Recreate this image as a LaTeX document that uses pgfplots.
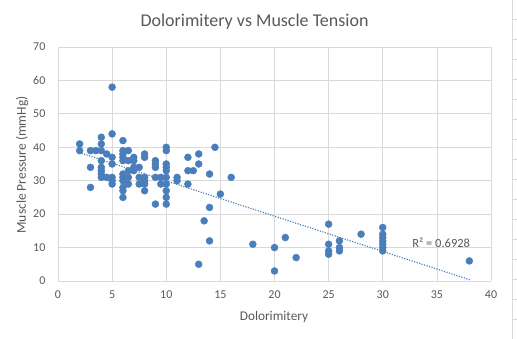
\documentclass[border=0pt]{standalone}
\usepackage{fontspec}
\setmainfont{Carlito}
\usepackage{pgfplots}
\usepackage{pgfplotstable}
\pgfplotsset{compat=1.18}
\definecolor{dot}{RGB}{74,126,187}
\definecolor{txt}{RGB}{89,89,89}
\definecolor{grd}{RGB}{217,217,217}
\pgfplotstableread{
x y
2 41
2 39
3 39
3 34
3 28
3.5 39
4 43
4 41
4 39
4 36
4 34
4 33
4 32
4 31
4.5 38
4.5 31
5 58
5 44
5 37
5 35
5 31
5 30
5 29
6 42
6 39
6 38
6 37
6 36
6 32
6 31
6 30
6 28
6 27
6 25
6.5 39
6.5 36
6.5 33
6.5 31
6.5 29
7 37
7 36
7 34
7 33
7.5 34
7.5 31
7.5 29
8 38
8 37
8 31
8 30
8 29
8 27
9 36
9 35
9 34
9 31
9 23
9.5 31
9.5 29
10 40
10 39
10 35
10 34
10 33
10 31
10 29
10 27
10 25
10 23
11 31
11 30
12 37
12 33
12 29
12.5 33
13 38
13 35
13 5
13.5 18
14 32
14 22
14 12
14.5 40
15 26
16 31
18 11
20 10
20 3
21 13
22 7
25 17
25 11
25 9
25 8
26 12
26 10
26 9
28 14
30 16
30 14
30 13
30 12
30 11
30 10
30 9
38 6
}\datatable
\begin{document}
\begin{tikzpicture}[x=1pt,y=1pt]
\useasboundingbox (0,0) rectangle (517,339);
\fill[white] (0,0) rectangle (517,339);
\draw[grd, line width=0.7pt] (512.7,0) -- (512.7,339);
\foreach \k in {0,...,15} {\draw[grd, line width=0.7pt] (512.7,{339-19.3-20*\k}) -- (517,{339-19.3-20*\k});}
\begin{axis}[at={(58pt,58pt)}, anchor=south west, scale only axis,
  width=433pt, height=234pt,
  xmin=0, xmax=40, ymin=0, ymax=70,
  xtick={0,5,...,40}, ytick={0,10,...,70},
  grid=major, major grid style={grd, line width=0.75pt},
  axis x line=bottom, axis y line=left,
  axis line style={draw=none, -}, tick style={draw=none},
  ticklabel style={font=\fontsize{12}{13}\selectfont, text=txt},
  /pgf/number format/assume math mode=true,
  xticklabel style={yshift=-4pt},
  yticklabel style={xshift=-7pt},
  clip=false]
\addplot[only marks, mark=*, mark size=3.5pt, mark options={draw=dot, fill=dot}] table[x=x, y=y] {\datatable};
\addplot[dot, line width=1.6pt, dash pattern=on 0.01pt off 2.6pt, line cap=round] coordinates {(2,38.4) (38,0.4)};
\node[font=\fontsize{12.5}{14}\selectfont, text=txt] at (axis cs:35.4,11.4) {R² = 0.6928};
\end{axis}
\node[font=\fontsize{18}{20}\selectfont, text=txt] at (254.5,317.5) {Dolorimitery vs Muscle Tension};
\node[rotate=90, font=\fontsize{13.5}{15}\selectfont, text=txt] at (22,174) {Muscle Pressure (mmHg)};
\node[font=\fontsize{13.3}{15}\selectfont, text=txt] at (274,22) {Dolorimitery};
\end{tikzpicture}
\end{document}
